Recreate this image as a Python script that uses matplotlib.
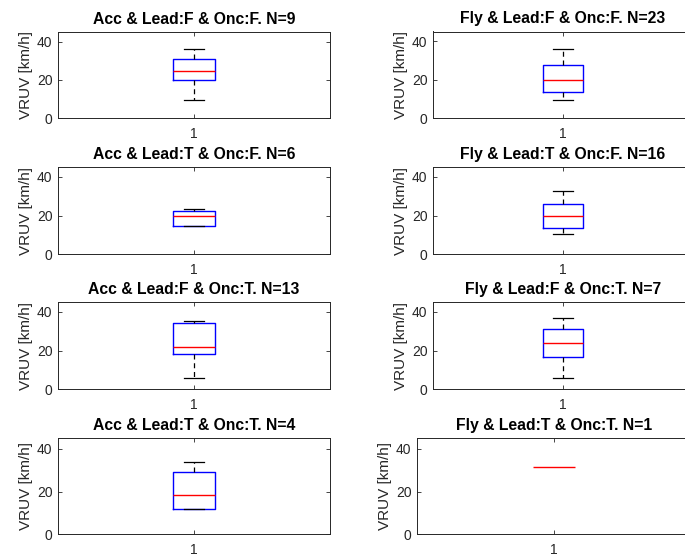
import matplotlib
matplotlib.use("Agg")
import matplotlib.pyplot as plt

plt.rcParams["font.family"] = ["Liberation Sans", "DejaVu Sans"]

titles = [
    "Acc & Lead:F & Onc:F. N=9",
    "Fly & Lead:F & Onc:F. N=23",
    "Acc & Lead:T & Onc:F. N=6",
    "Fly & Lead:T & Onc:F. N=16",
    "Acc & Lead:F & Onc:T. N=13",
    "Fly & Lead:F & Onc:T. N=7",
    "Acc & Lead:T & Onc:T. N=4",
    "Fly & Lead:T & Onc:T. N=1",
]
whisker_low = [9.7, 9.4, 14.4, 10.6, 6.0, 5.7, 11.9, 31.7]
q1 = [20.0, 13.6, 14.4, 13.8, 18.1, 16.7, 11.9, 31.7]
median = [24.6, 19.9, 20.0, 19.8, 21.9, 24.1, 18.4, 31.7]
q3 = [30.8, 27.4, 22.2, 26.2, 34.5, 31.4, 29.2, 31.7]
whisker_high = [36.2, 36.1, 23.2, 32.6, 35.3, 36.7, 33.9, 31.7]

yticks = [0, 20, 40]
ylabel = "VRUV [km/h]"

W, H = 685, 556
fig = plt.figure(figsize=(W / 100, H / 100), dpi=100)

# panel rectangles in pixels: left, top, right, bottom
rects = [
    (58, 32, 330, 118.3), (433, 31.5, 693, 118.3),
    (58, 167.3, 330, 254.3), (433, 167.3, 693, 254.3),
    (58, 302.3, 330, 389.3), (433, 302.3, 693, 389.3),
    (58, 438.3, 330, 534.3), (417, 438.3, 691, 534.3),
]

edge = "#262626"
for i, (l, t, r, b) in enumerate(rects):
    ax = fig.add_axes([l / W, 1 - b / H, (r - l) / W, (b - t) / H])
    stats = [{
        "med": median[i], "q1": q1[i], "q3": q3[i],
        "whislo": whisker_low[i], "whishi": whisker_high[i],
        "fliers": [],
    }]
    flat = q1[i] == q3[i]
    ax.bxp(stats, positions=[1], widths=0.153, showfliers=False,
           boxprops=dict(color="blue", lw=1.0, visible=not flat),
           medianprops=dict(color="red", lw=1.0, zorder=3),
           whiskerprops=dict(color="black", lw=0.9, ls=(0, (4, 3)),
                             visible=not flat),
           capprops=dict(color="black", lw=0.9, visible=not flat),
           capwidths=0.077)
    ax.set_xlim(0.5, 1.5)
    ax.set_ylim(0, 45)
    ax.set_xticks([1])
    ax.set_xticklabels(["1"])
    ax.set_yticks(yticks)
    ax.tick_params(direction="in", top=True, right=True, length=3,
                   width=0.6, color=edge, labelcolor=edge, labelsize=10)
    ax.tick_params(axis="x", pad=6)
    ax.tick_params(axis="y", pad=4)
    for s in ax.spines.values():
        s.set_color(edge)
        s.set_linewidth(0.7)
    ax.set_ylabel(ylabel, fontsize=11, color=edge, labelpad=3)
    ax.set_title(titles[i], fontsize=11.3, fontweight="bold", pad=6)

fig.savefig("out.png", dpi=100)
